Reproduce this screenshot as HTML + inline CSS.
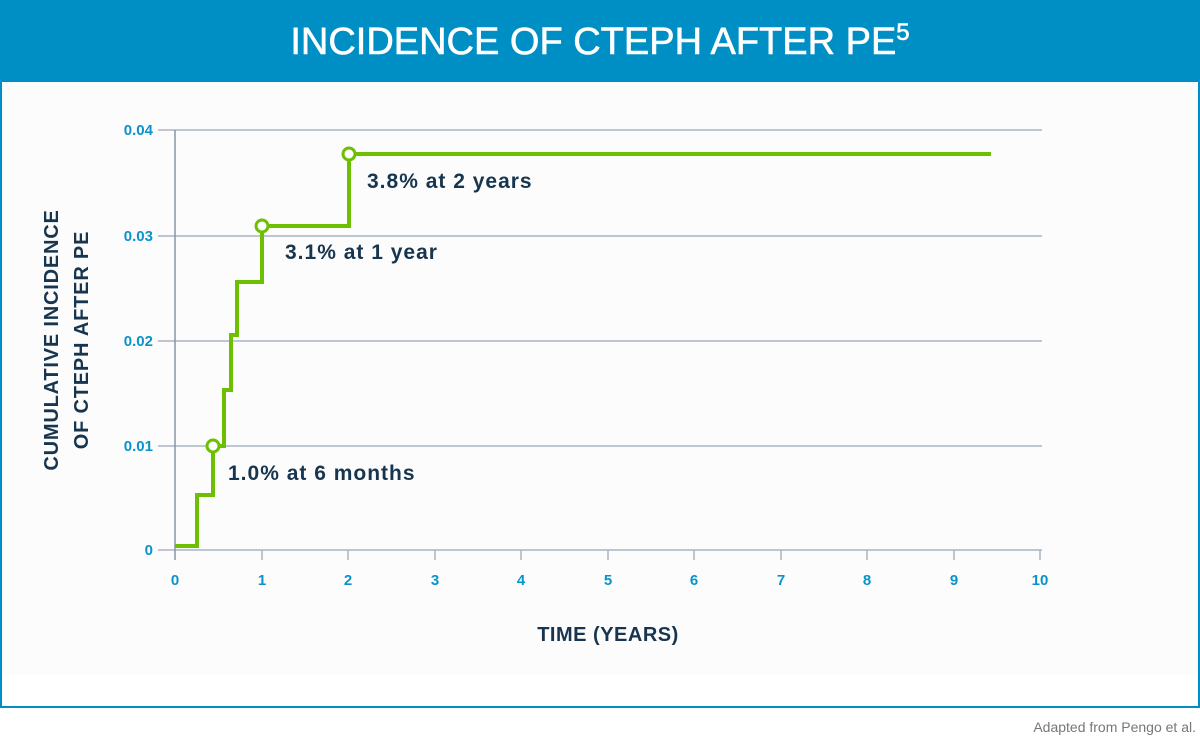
<!DOCTYPE html>
<html><head><style>
body{margin:0;width:1200px;height:755px;background:#fff;font-family:"Liberation Sans",sans-serif;position:relative;overflow:hidden}
</style></head><body>
<svg width="1200" height="755" style="position:absolute;left:0;top:0">
<rect x="0" y="0" width="1200" height="82" fill="#008fc5"/>
<text x="600" y="54" text-anchor="middle" fill="#fff" font-size="38" font-family="Liberation Sans, sans-serif" stroke="#fff" stroke-width="0.6">INCIDENCE OF CTEPH AFTER PE<tspan font-size="24" dy="-14">5</tspan></text>
<rect x="1" y="82" width="1198" height="625" fill="#fff" stroke="#008fc5" stroke-width="2"/>
<rect x="2" y="82" width="1196" height="593" fill="#fcfcfc"/>
<g stroke="#a9b4c0" stroke-width="1.5">
<line x1="158" y1="130" x2="1042" y2="130"/>
<line x1="158" y1="236" x2="1042" y2="236"/>
<line x1="158" y1="341" x2="1042" y2="341"/>
<line x1="158" y1="446" x2="1042" y2="446"/>
<line x1="158" y1="550" x2="1042" y2="550"/>
<line x1="175" y1="130" x2="175" y2="560" stroke="#8a96a3"/>
<line x1="262" y1="550" x2="262" y2="560"/><line x1="348" y1="550" x2="348" y2="560"/>
<line x1="435" y1="550" x2="435" y2="560"/><line x1="521" y1="550" x2="521" y2="560"/>
<line x1="608" y1="550" x2="608" y2="560"/><line x1="694" y1="550" x2="694" y2="560"/>
<line x1="781" y1="550" x2="781" y2="560"/><line x1="867" y1="550" x2="867" y2="560"/>
<line x1="954" y1="550" x2="954" y2="560"/><line x1="1040" y1="550" x2="1040" y2="560"/>
</g>
<g fill="#0a93c8" font-size="15" font-weight="bold" text-anchor="end">
<text x="153" y="135">0.04</text><text x="153" y="241">0.03</text><text x="153" y="346">0.02</text><text x="153" y="451">0.01</text><text x="153" y="555">0</text>
</g>
<g fill="#0a93c8" font-size="15" font-weight="bold" text-anchor="middle">
<text x="175" y="585">0</text><text x="262" y="585">1</text><text x="348" y="585">2</text><text x="435" y="585">3</text><text x="521" y="585">4</text><text x="608" y="585">5</text><text x="694" y="585">6</text><text x="781" y="585">7</text><text x="867" y="585">8</text><text x="954" y="585">9</text><text x="1040" y="585">10</text>
</g>
<text x="608" y="641" text-anchor="middle" fill="#17354f" font-size="20" font-weight="bold" letter-spacing="0.5">TIME (YEARS)</text>
<g fill="#17354f" font-size="20" font-weight="bold" text-anchor="middle" letter-spacing="0.8">
<text transform="translate(58,340) rotate(-90)">CUMULATIVE INCIDENCE</text>
<text transform="translate(88,340) rotate(-90)">OF CTEPH AFTER PE</text>
</g>
<polyline fill="none" stroke="#6cc001" stroke-width="4" points="175,546 197,546 197,495 213,495 213,446 224,446 224,390 231,390 231,335 237,335 237,282 262,282 262,226 349,226 349,154 991,154"/>
<g fill="#fff" stroke="#6cc001" stroke-width="3">
<circle cx="213" cy="446" r="6"/><circle cx="262" cy="226" r="6"/><circle cx="349" cy="154" r="6"/>
</g>
<g fill="#17354f" font-size="21" font-weight="bold" letter-spacing="1">
<text x="228" y="480">1.0% at 6 months</text>
<text x="285" y="259">3.1% at 1 year</text>
<text x="367" y="188">3.8% at 2 years</text>
</g>
<text x="1196" y="732" text-anchor="end" fill="#777" font-size="14">Adapted from Pengo et al.</text>
</svg>
</body></html>
